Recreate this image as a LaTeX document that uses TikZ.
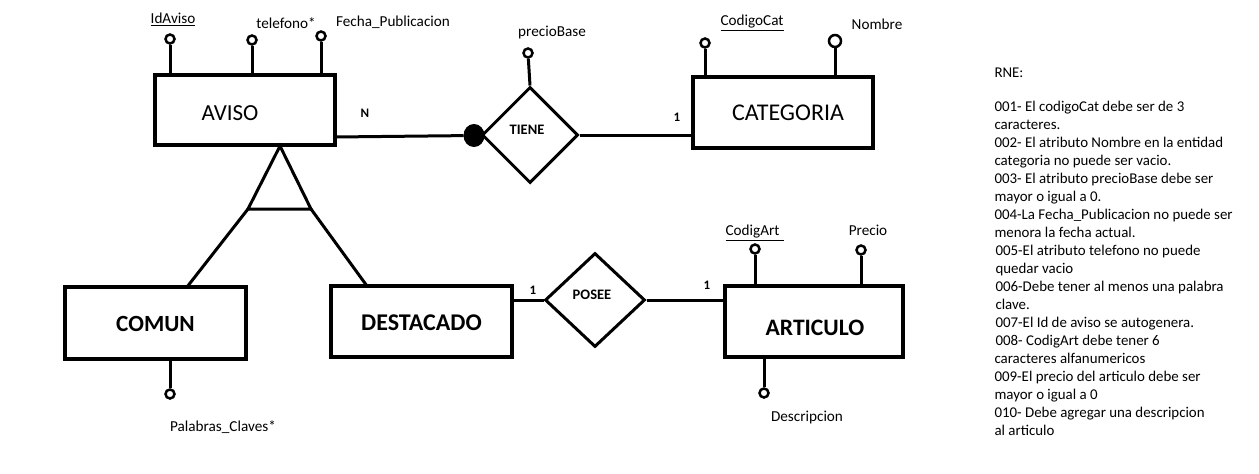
\documentclass[tikz,border=0pt]{standalone}
\usepackage{fontspec}
\setmainfont{Carlito}
\usetikzlibrary{shapes.geometric}
\newcommand{\lowerby}[2]{\raisebox{-#1}[\height][0pt]{#2}}
\begin{document}
\begin{tikzpicture}[x=1pt,y=-1pt,line width=3pt,
  entity/.style={draw,rectangle,line width=3.5pt,inner sep=0pt},
  rel/.style={draw,diamond,line width=3pt,inner sep=0pt,shape aspect=1},
  attr/.style={draw,circle,line width=2.5pt,inner sep=0pt,minimum size=9pt},
  attrtxt/.style={inner sep=0pt,font=\fontsize{15.2pt}{18pt}\selectfont},
  card/.style={inner sep=0pt,font=\fontsize{13pt}{15pt}\selectfont\bfseries},
  reltxt/.style={inner sep=0pt,font=\fontsize{14.5pt}{17pt}\selectfont\bfseries}]
\useasboundingbox (0,0) rectangle (1259,474);
\fill[white] (0,0) rectangle (1259,474);

% entities
\node[entity,minimum width=180pt,minimum height=70pt,font=\fontsize{23pt}{27pt}\selectfont] (aviso) at (245,110) {\hspace*{-30pt}\lowerby{3pt}{AVISO}};
\node[entity,minimum width=180pt,minimum height=71pt,font=\fontsize{24pt}{29pt}\selectfont] (categoria) at (783,112.5) {\hspace*{10pt}CATEGORIA};
\node[entity,minimum width=181pt,minimum height=72pt,font=\fontsize{23.2pt}{28pt}\bfseries] (comun) at (155.5,323) {\lowerby{1pt}{COMUN}};
\node[entity,minimum width=181pt,minimum height=71pt,font=\fontsize{24pt}{28pt}\bfseries] (destacado) at (421.5,321.5) {\lowerby{1pt}{DESTACADO}};
\node[entity,minimum width=178pt,minimum height=71pt,font=\fontsize{23.6pt}{28pt}\bfseries] (articulo) at (814,321.5) {\hspace*{2pt}\lowerby{6pt}{ARTICULO}};

% relationships
\node[rel,minimum width=96pt,minimum height=96pt] (tiene) at (530,135) {};
\node[reltxt] (tieneT) at (527,130) {TIENE};
\node[rel,minimum width=100pt,minimum height=94pt] (posee) at (595,300) {};
\node[reltxt] (poseeT) at (592,295) {POSEE};
\node[draw,ellipse,fill=black,minimum width=20pt,minimum height=22pt,inner sep=0pt,line width=1pt] (dot) at (474,135.5) {};

% connectors
\coordinate (avR) at (335,137);
\draw (avR) -- (dot);
\draw (tiene.east) -- (tiene.east -| categoria.west);
\draw (destacado.east |- posee.west) -- (posee.west);
\draw (posee.east) -- (posee.east -| articulo.west);

\node[card] (cN) at (365,113) {N};
\node[card] (c1a) at (677,117) {1};
\node[card] (c1b) at (533,290) {1};
\node[card] (c1c) at (707,285) {1};

% ISA triangle
\coordinate (isaA) at (280,146);
\coordinate (isaL) at (248,209);
\coordinate (isaR) at (311,209);
\coordinate (comunTop) at (187,287);
\coordinate (destTop) at (367,286);
\draw[line join=miter] (isaA) -- (isaL) -- (isaR) -- cycle;
\draw (isaL) -- (comunTop);
\draw (isaR) -- (destTop);

% attributes AVISO
\node[attr] (idA) at (170,39) {};
\draw (idA) -- (idA |- aviso.north);
\node[attrtxt] (idAT) at (173,19) {\underline{IdAviso}};
\node[attr] (telA) at (252,40) {};
\draw (telA) -- (telA |- aviso.north);
\node[attrtxt] (telAT) at (286,23) {telefono*};
\node[attr] (fecA) at (321,36) {};
\draw (fecA) -- (fecA |- aviso.north);
\node[attrtxt] (fecAT) at (393,22) {Fecha\_Publicacion};

% attribute TIENE
\node[attr] (preB) at (528,53) {};
\draw (preB) -- (tiene.north);
\node[attrtxt] (preBT) at (552,32) {precioBase};

% attributes CATEGORIA
\node[attr] (codC) at (705,43) {};
\draw (codC) -- (codC |- categoria.north);
\node[attrtxt] (codCT) at (752,23) {\underline{CodigoCat}};
\node[attr,minimum size=12pt] (nomC) at (835,41) {};
\draw (nomC) -- (nomC |- categoria.north);
\node[attrtxt] (nomCT) at (877,24) {Nombre};

% attribute COMUN
\node[attr] (palC) at (170,394) {};
\draw (palC) -- (palC |- comun.south);
\node[attrtxt] (palCT) at (223,427) {Palabras\_Claves*};

% attributes ARTICULO
\node[attr] (codAr) at (755,249) {};
\draw (codAr) -- (codAr |- articulo.north);
\node[attrtxt] (codArT) at (755,233) {\underline{CodigArt\hspace*{5pt}}};
\node[attr] (preAr) at (861,250) {};
\draw (preAr) -- (preAr |- articulo.north);
\node[attrtxt] (preArT) at (868,230) {Precio};
\node[attr] (desAr) at (764,393) {};
\draw (desAr) -- (desAr |- articulo.south);
\node[attrtxt] (desArT) at (807,417) {Descripcion};

% RNE
\node[anchor=north west,inner sep=0pt,align=left,font=\fontsize{14.9pt}{18pt}\selectfont] (rne) at (993,66) {RNE:\\[16pt]
001- El codigoCat debe ser de 3\\
caracteres.\\
002- El atributo Nombre en la entidad\\
categoria no puede ser vacio.\\
003- El atributo precioBase debe ser\\
mayor o igual a 0.\\
004-La Fecha\_Publicacion no puede ser\\
menora la fecha actual.\\
\hspace*{1pt}005-El atributo telefono no puede\\
\hspace*{1pt}quedar vacio\\
\hspace*{1pt}006-Debe tener al menos una palabra\\
\hspace*{1pt}clave.\\
\hspace*{1pt}007-El Id de aviso se autogenera.\\
\hspace*{1pt}008- CodigArt debe tener 6\\
caracteres alfanumericos\\
009-El precio del articulo debe ser\\
mayor o igual a 0\\
010- Debe agregar una descripcion\\
al articulo};
\end{tikzpicture}
\end{document}
